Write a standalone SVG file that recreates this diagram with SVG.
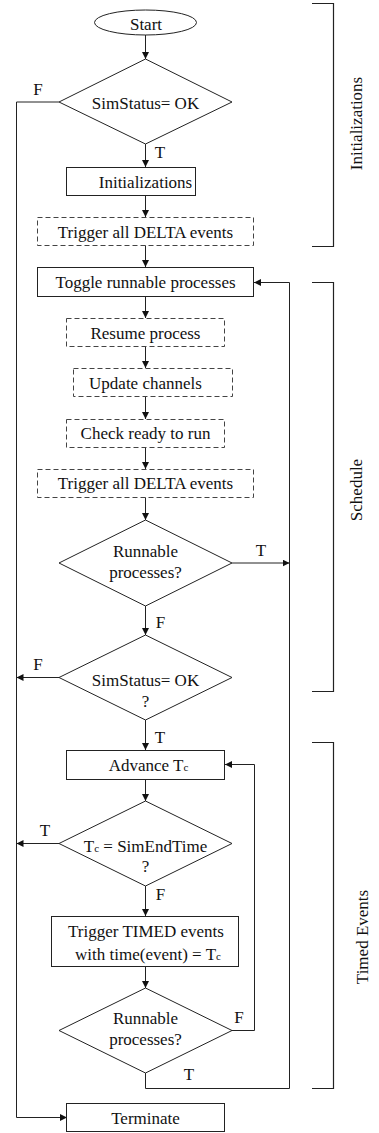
<svg xmlns="http://www.w3.org/2000/svg" width="379" height="1133" viewBox="0 0 379 1133" font-family="'Liberation Serif', 'DejaVu Serif', serif">
<style>
.box{fill:#fff;stroke:#222;stroke-width:1}
.dash{fill:#fff;stroke:#444;stroke-width:1;stroke-dasharray:5,3}
text{font-family:'Liberation Serif','DejaVu Serif',serif;font-size:17px;fill:#111;text-anchor:middle}
.c{stroke:#222;stroke-width:1;fill:none}
.br{stroke:#222;stroke-width:1.2;fill:none}
.sub{font-size:11px}
</style>
<defs>
<marker id="ah" markerUnits="userSpaceOnUse" markerWidth="7" markerHeight="7" refX="7" refY="3.5" orient="auto">
<path d="M0,0 L7,3.5 L0,7 z" fill="#111"/>
</marker>
</defs>
<rect width="379" height="1133" fill="#fff"/>

<g id="connectors">
<line class="c" x1="145.5" y1="35" x2="145.5" y2="59" marker-end="url(#ah)"/>
<polyline class="c" points="59,102 16.5,102 16.5,1117.5 67,1117.5" marker-end="url(#ah)"/>
<line class="c" x1="145.5" y1="144" x2="145.5" y2="167" marker-end="url(#ah)"/>
<line class="c" x1="145.5" y1="195" x2="145.5" y2="217" marker-end="url(#ah)"/>
<line class="c" x1="145.5" y1="245" x2="145.5" y2="267" marker-end="url(#ah)"/>
<line class="c" x1="145.5" y1="296" x2="145.5" y2="318" marker-end="url(#ah)"/>
<line class="c" x1="145.5" y1="347" x2="145.5" y2="368" marker-end="url(#ah)"/>
<line class="c" x1="145.5" y1="397" x2="145.5" y2="419" marker-end="url(#ah)"/>
<line class="c" x1="145.5" y1="447" x2="145.5" y2="469" marker-end="url(#ah)"/>
<line class="c" x1="145.5" y1="497" x2="145.5" y2="520" marker-end="url(#ah)"/>
<line class="c" x1="232" y1="563" x2="289.5" y2="563" marker-end="url(#ah)"/>
<polyline class="c" points="145.5,1073 145.5,1088.5 289.5,1088.5 289.5,282.5 254,282.5" marker-end="url(#ah)"/>
<line class="c" x1="145.5" y1="606" x2="145.5" y2="635" marker-end="url(#ah)"/>
<line class="c" x1="59" y1="677.5" x2="16.5" y2="677.5" marker-end="url(#ah)"/>
<line class="c" x1="145.5" y1="720" x2="145.5" y2="750" marker-end="url(#ah)"/>
<line class="c" x1="145.5" y1="779" x2="145.5" y2="801" marker-end="url(#ah)"/>
<line class="c" x1="59" y1="843.5" x2="16.5" y2="843.5" marker-end="url(#ah)"/>
<line class="c" x1="145.5" y1="886" x2="145.5" y2="916" marker-end="url(#ah)"/>
<line class="c" x1="145.5" y1="966" x2="145.5" y2="988" marker-end="url(#ah)"/>
<polyline class="c" points="232,1030.5 254.5,1030.5 254.5,764.5 225,764.5" marker-end="url(#ah)"/>
<text x="38" y="95">F</text>
<text x="160" y="158">T</text>
<text x="261" y="556">T</text>
<text x="160.5" y="627.5">F</text>
<text x="38" y="670">F</text>
<text x="160" y="742.5">T</text>
<text x="45" y="836">T</text>
<text x="160.5" y="900">F</text>
<text x="239" y="1022.5">F</text>
<text x="189" y="1080">T</text>
</g>

<g id="start">
<ellipse class="box" cx="145.5" cy="22.5" rx="51" ry="12.5"/>
<text x="146" y="29.5">Start</text>
</g>
<g id="simstatus1">
<polygon class="box" points="145.5,59 232,102 145.5,144 59,102"/>
<text x="145.5" y="108.5">SimStatus= OK</text>
</g>
<g id="initializations">
<rect class="box" x="66.5" y="167.5" width="129" height="28"/>
<text x="145.5" y="187.5">Initializations</text>
</g>
<g id="trigger-delta-1">
<rect class="dash" x="37.5" y="217.5" width="216" height="28"/>
<text x="145.5" y="237.5">Trigger all DELTA events</text>
</g>
<g id="toggle">
<rect class="box" x="37.5" y="267.5" width="216" height="29"/>
<text x="145.5" y="288">Toggle runnable processes</text>
</g>
<g id="resume">
<rect class="dash" x="66.5" y="318.5" width="158" height="28"/>
<text x="145.5" y="338.5">Resume process</text>
</g>
<g id="update">
<rect class="dash" x="73.5" y="368.5" width="159" height="28"/>
<text x="145.5" y="388.5">Update channels</text>
</g>
<g id="check">
<rect class="dash" x="66.5" y="419.5" width="158" height="28"/>
<text x="145.5" y="439">Check ready to run</text>
</g>
<g id="trigger-delta-2">
<rect class="dash" x="37.5" y="469.5" width="216" height="28"/>
<text x="145.5" y="489">Trigger all DELTA events</text>
</g>
<g id="runnable1">
<polygon class="box" points="145.5,520 232,563 145.5,606 59,563"/>
<text x="145.5" y="556.5">Runnable</text>
<text x="145.5" y="577.5">processes?</text>
</g>
<g id="simstatus2">
<polygon class="box" points="145.5,635 232,677.5 145.5,720 59,677.5"/>
<text x="145.5" y="685.5">SimStatus= OK</text>
<text x="145.5" y="707">?</text>
</g>
<g id="advance">
<rect class="box" x="66.5" y="750.5" width="158" height="29"/>
<text x="148.5" y="771">Advance T<tspan class="sub">c</tspan></text>
</g>
<g id="tc-end">
<polygon class="box" points="145.5,801 232,843.5 145.5,886 59,843.5"/>
<text x="145.5" y="851.5">T<tspan class="sub">c</tspan> = SimEndTime</text>
<text x="145.5" y="872">?</text>
</g>
<g id="trigger-timed">
<rect class="box" x="51.5" y="916.5" width="187" height="50"/>
<text x="146" y="936.5">Trigger TIMED events</text>
<text x="148" y="959.5">with time(event) = T<tspan class="sub">c</tspan></text>
</g>
<g id="runnable2">
<polygon class="box" points="145.5,988 232,1030.5 145.5,1073 59,1030.5"/>
<text x="145.5" y="1024">Runnable</text>
<text x="145.5" y="1045">processes?</text>
</g>
<g id="terminate">
<rect class="box" x="66.5" y="1103.5" width="158" height="28"/>
<text x="145.5" y="1123.5">Terminate</text>
</g>

<g id="phase-initializations">
<polyline class="br" points="312,3.5 333.5,3.5 333.5,246.5 312,246.5"/>
<text transform="translate(361.5,123.5) rotate(-90)">Initializations</text>
</g>
<g id="phase-schedule">
<polyline class="br" points="312,282.5 333.5,282.5 333.5,691.5 312,691.5"/>
<text transform="translate(361.5,490) rotate(-90)">Schedule</text>
</g>
<g id="phase-timed">
<polyline class="br" points="312,742.5 333.5,742.5 333.5,1088.5 312,1088.5"/>
<text transform="translate(368,937) rotate(-90)">Timed Events</text>
</g>
</svg>
